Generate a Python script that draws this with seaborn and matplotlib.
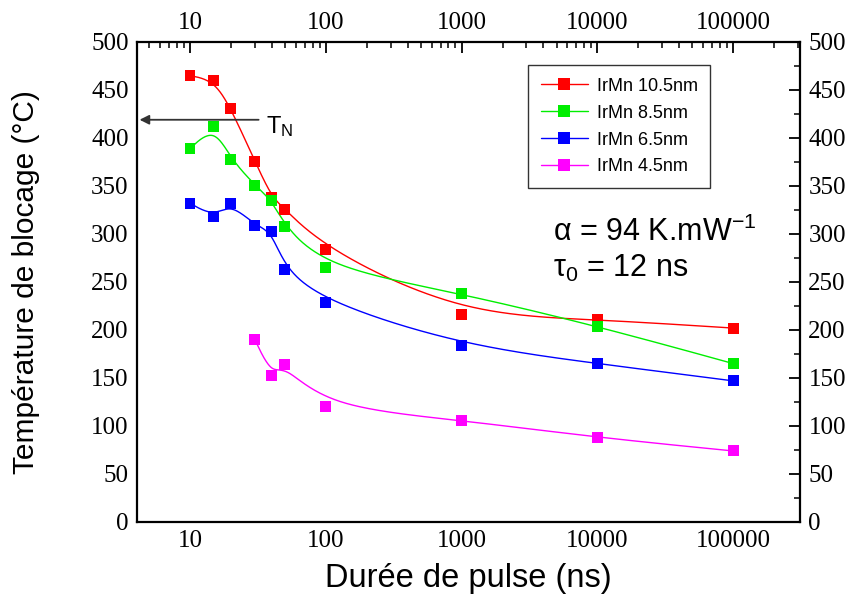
import numpy as np
import pandas as pd
import matplotlib
matplotlib.use("Agg")
import matplotlib.pyplot as plt
import seaborn as sns
from matplotlib.ticker import FixedLocator, FuncFormatter, LogLocator, MultipleLocator, NullFormatter
from matplotlib.lines import Line2D

# ---- data ----
durations_a = [10, 15, 20, 30, 40, 50, 100, 1000, 10000, 100000]
temp_105 = [465, 460, 431, 376, 338, 326, 284, 216, 211, 202]
temp_85 = [389, 412, 378, 351, 335, 308, 265, 238, 204, 165]
temp_65 = [332, 318, 332, 309, 303, 263, 229, 184, 165, 147]
durations_b = [30, 40, 50, 100, 1000, 10000, 100000]
temp_45 = [190, 153, 164, 120, 106, 88, 74]

series_names = ["IrMn 10.5nm", "IrMn 8.5nm", "IrMn 6.5nm", "IrMn 4.5nm"]
series_colors = ["#ff0000", "#00ee00", "#0000ff", "#ff00ff"]
x_ticks = [10, 100, 1000, 10000, 100000]
y_ticks = [0, 50, 100, 150, 200, 250, 300, 350, 400, 450, 500]
tn_value = 419

sns.set_theme(style="white")
plt.rcParams["font.family"] = ["Liberation Serif", "DejaVu Serif"]
plt.rcParams["mathtext.fontset"] = "custom"
plt.rcParams["mathtext.rm"] = "Liberation Sans"
plt.rcParams["mathtext.it"] = "Liberation Sans"
plt.rcParams["text.color"] = "black"
plt.rcParams["axes.labelcolor"] = "black"
plt.rcParams["xtick.color"] = "black"
plt.rcParams["ytick.color"] = "black"
SANS = ["Liberation Sans", "DejaVu Sans"]


def bspline_curve(xs, ys, n=60):
    """Cubic uniform B-spline using the data points as control points
    (in log10(x) space), clamped at both ends."""
    t = np.log10(np.asarray(xs, float))
    y = np.asarray(ys, float)
    P = np.column_stack([t, y])
    P = np.vstack([P[0], P[0], P, P[-1], P[-1]])
    u = np.linspace(0, 1, n)
    b0 = (1 - u) ** 3 / 6
    b1 = (3 * u ** 3 - 6 * u ** 2 + 4) / 6
    b2 = (-3 * u ** 3 + 3 * u ** 2 + 3 * u + 1) / 6
    b3 = u ** 3 / 6
    out = []
    for i in range(len(P) - 3):
        seg = (np.outer(b0, P[i]) + np.outer(b1, P[i + 1])
               + np.outer(b2, P[i + 2]) + np.outer(b3, P[i + 3]))
        out.append(seg)
    out = np.vstack(out)
    return 10 ** out[:, 0], out[:, 1]


points = []
curves = []
for name, xs, ys in [(series_names[0], durations_a, temp_105),
                     (series_names[1], durations_a, temp_85),
                     (series_names[2], durations_a, temp_65),
                     (series_names[3], durations_b, temp_45)]:
    points.append(pd.DataFrame({"x": xs, "y": ys, "s": name}))
    cx, cy = bspline_curve(xs, ys)
    curves.append(pd.DataFrame({"x": cx, "y": cy, "s": name}))
pts = pd.concat(points, ignore_index=True)
crv = pd.concat(curves, ignore_index=True)
palette = dict(zip(series_names, series_colors))

fig = plt.figure(figsize=(8.52, 6.0), dpi=100)
ax = fig.add_axes([0.1608, 0.13, 0.7782, 0.80])

sns.lineplot(data=crv, x="x", y="y", hue="s", palette=palette, linewidth=1.0,
             sort=False, estimator=None, legend=False, ax=ax)
sns.scatterplot(data=pts, x="x", y="y", hue="s", palette=palette, marker="s",
                s=62, edgecolor="none", legend=False, ax=ax, zorder=3)

ax.set_xscale("log")
ax.set_xlim(4.07, 3.1e5)
ax.set_ylim(0, 500)

ax.xaxis.set_major_locator(FixedLocator(x_ticks))
ax.xaxis.set_major_formatter(FuncFormatter(lambda v, p: f"{int(round(v))}"))
ax.xaxis.set_minor_locator(LogLocator(base=10, subs=np.arange(2, 10)))
ax.xaxis.set_minor_formatter(NullFormatter())
ax.yaxis.set_major_locator(FixedLocator(y_ticks))
ax.yaxis.set_minor_locator(MultipleLocator(25))

ax.tick_params(which="both", direction="in", top=True, right=True,
               labeltop=True, labelright=True, colors="black")
ax.tick_params(which="major", length=8, width=1.3, pad=6, labelsize=18)
ax.tick_params(which="minor", length=4, width=1.1)

for sp in ax.spines.values():
    sp.set_color("black")
    sp.set_linewidth(1.6)

ax.set_xlabel("Durée de pulse (ns)", fontsize=23.5, labelpad=8, family=SANS,
              color="black")
ax.set_ylabel("Température de blocage (°C)", fontsize=21.5, labelpad=37,
              family=SANS, color="black")

# T_N arrow
ax.annotate("", xy=(4.25, tn_value), xytext=(32, tn_value),
            arrowprops=dict(arrowstyle="-|>", color="#333333", lw=1.3,
                            mutation_scale=14, shrinkA=0, shrinkB=0))
ax.text(36, 412, "T$_\\mathrm{N}$", fontsize=17, va="center", ha="left",
        family=SANS, color="black")

ax.text(0.627, 0.604, "α = 94 K.mW$^{-1}$", transform=ax.transAxes,
        fontsize=22, va="center", ha="left", family=SANS, color="black")
ax.text(0.627, 0.529, "τ$_0$ = 12 ns", transform=ax.transAxes,
        fontsize=22, va="center", ha="left", family=SANS, color="black")

handles = [Line2D([0], [0], color=c, lw=1.0, marker="s", markersize=8,
                  markeredgewidth=0) for c in series_colors]
leg = ax.legend(handles, series_names, loc="upper left",
                bbox_to_anchor=(0.590, 0.952), borderaxespad=0,
                prop={"family": SANS, "size": 13}, frameon=True,
                fancybox=False, handlelength=2.6, borderpad=0.7,
                labelspacing=0.55, handletextpad=0.5, labelcolor="black")
leg.get_frame().set_edgecolor("black")
leg.get_frame().set_linewidth(1.0)

fig.savefig("out.png", dpi=100)
